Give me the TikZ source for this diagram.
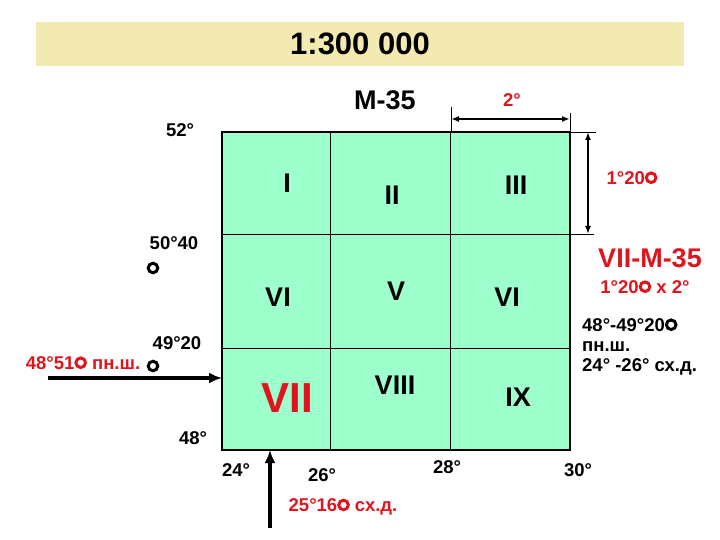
\documentclass[tikz,border=0pt]{standalone}
\usepackage{fontspec}
\setmainfont{Liberation Sans}
\usetikzlibrary{arrows.meta}
\definecolor{mint}{HTML}{9CFFCC}
\definecolor{sand}{HTML}{F2EAB0}
\definecolor{myred}{HTML}{E0141C}
\newcommand\ringmark[1]{\tikz[baseline=0pt]\draw[#1,line width=0.16em](0,0.36em)circle(0.26em);}
\tikzset{
  lab/.style={font=\bfseries\fontsize{18.5}{22}\selectfont, inner sep=0pt},
  redlab/.style={lab, text=myred},
  num/.style={font=\bfseries\fontsize{27}{30}\selectfont, inner sep=0pt},
  thin/.style={line width=0.8pt},
  ringnode/.style={draw, circle, line width=3pt, minimum size=9.5pt, inner sep=0pt},
  dim/.style={line width=2pt, {Latex[length=8pt,width=6pt]}-{Latex[length=8pt,width=6pt]}},
  big/.style={line width=3.5pt, -{Latex[length=13pt,width=11pt]}},
}
\begin{document}
\begin{tikzpicture}[x=1pt,y=-1pt]
\useasboundingbox (0,0) rectangle (720,540);
% title bar
\node[fill=sand, minimum width=648pt, minimum height=44pt, inner sep=0pt] (bar) at (360,44) {};
\node[font=\bfseries\fontsize{31}{34}\selectfont] (title) at (360,44) {1:300 000};
\node[font=\bfseries\fontsize{27}{30}\selectfont] (m35) at (385,100) {M-35};
% grid
\coordinate (nw) at (222,132);
\coordinate (se) at (570,450);
\fill[mint] (nw) rectangle (se);
\coordinate (v1t) at (330,132); \coordinate (v1b) at (330,450);
\coordinate (v2t) at (450,132); \coordinate (v2b) at (450,450);
\coordinate (h1l) at (222,234); \coordinate (h1r) at (570,234);
\coordinate (h2l) at (222,348); \coordinate (h2r) at (570,348);
\draw[thin] (v1t) -- (v1b) (v2t) -- (v2b) (h1l) -- (h1r) (h2l) -- (h2r);
\draw[line width=2.2pt] (nw) rectangle (se);
% numerals
\node[num] (n1) at (287,183) {I};
\node[num] (n2) at (392,195) {II};
\node[num] (n3) at (516,185) {III};
\node[num] (n4) at (278,297) {VI};
\node[num] (n5) at (396,291) {V};
\node[num] (n6) at (507,297) {VI};
\node[font=\bfseries\fontsize{42}{44}\selectfont, text=myred, inner sep=0pt] (n7) at (287,398) {VII};
\node[num] (n8) at (395,385) {VIII};
\node[num] (n9) at (518,397) {IX};
% horizontal dimension
\coordinate (t1a) at (451,107); \coordinate (t1b) at (451,132);
\coordinate (t2a) at (570,113); \coordinate (t2b) at (570,132);
\draw[thin] (t1a) -- (t1b) (t2a) -- (t2b);
\coordinate (d1a) at (451,119); \coordinate (d1b) at (570,119);
\draw[dim] (d1a) -- (d1b);
\node[redlab] (two) at (512,100) {2°};
% vertical dimension
\coordinate (t3a) at (570,132); \coordinate (t3b) at (596,132);
\coordinate (t4a) at (570,234); \coordinate (t4b) at (594,234);
\draw[thin] (t3a) -- (t3b) (t4a) -- (t4b);
\coordinate (d2a) at (588,132); \coordinate (d2b) at (588,234);
\draw[dim] (d2a) -- (d2b);
\node[redlab] (onetw) at (632,178) {1°20\ringmark{myred}};
% left labels
\node[lab] (l52) at (180,130) {52°};
\node[lab] (l5040) at (174,243) {50°40};
\node[ringnode] (r1) at (153,268) {};
\node[lab] (l4920) at (177,343) {49°20};
\node[ringnode] (r2) at (153,366) {};
\node[redlab] (l4851) at (83,363) {48°51\ringmark{myred} пн.ш.};
\node[lab] (l48) at (193,438) {48°};
\coordinate (la) at (48,378);
\coordinate (lb) at (222,378);
\draw[big] (la) -- (lb);
% bottom labels
\node[lab] (b24) at (236,470) {24°};
\node[lab] (b26) at (322,475) {26°};
\node[lab] (b28) at (447,467) {28°};
\node[lab] (b30) at (578,470) {30°};
\coordinate (ba) at (270,528);
\coordinate (bb) at (270,450);
\draw[big] (ba) -- (bb);
\node[redlab] (b2516) at (343,507) {25°16\ringmark{myred} сх.д.};
% right text
\node[font=\bfseries\fontsize{27}{30}\selectfont, text=myred, inner sep=0pt] (vii) at (650,258) {VII-M-35};
\node[redlab] (size) at (645,287) {1°20\ringmark{myred} x 2°};
\node[lab, anchor=west] (r1t) at (582,325) {48°-49°20\ringmark{black}};
\node[lab, anchor=west] (r2t) at (582,347) {пн.ш.};
\node[lab, anchor=west] (r3t) at (582,367) {24° -26° сх.д.};
\end{tikzpicture}
\end{document}
